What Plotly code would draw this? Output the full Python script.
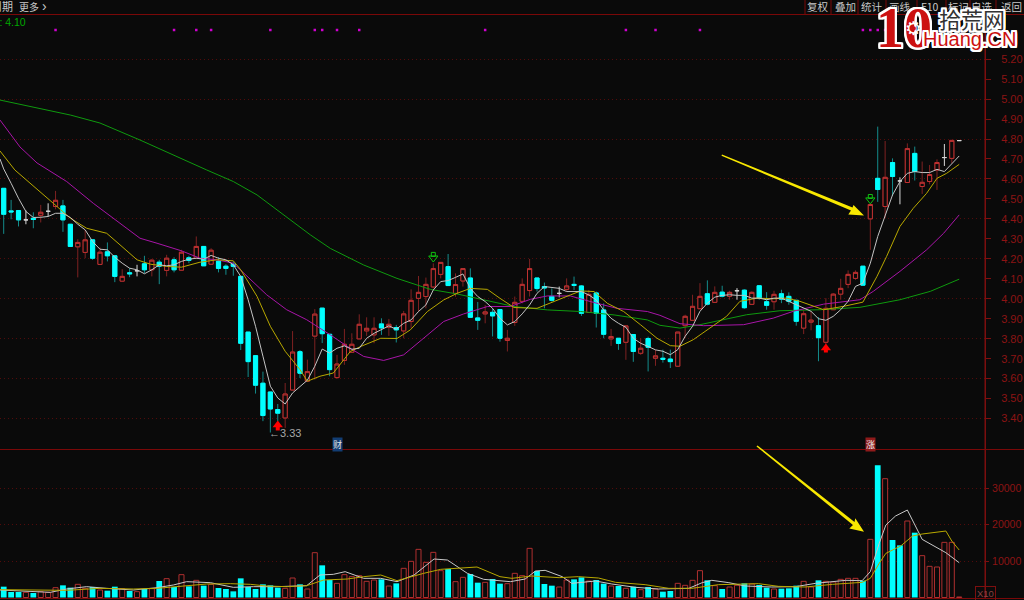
import plotly.graph_objects as go
from plotly.subplots import make_subplots

# --- candles: open, high, low, close per session ---
opens = [4.553,4.44,4.442,4.395,4.403,4.418,4.438,4.462,4.465,4.373,
 4.26,4.232,4.295,4.172,4.235,4.215,4.088,4.13,4.14,4.175,
 4.145,4.183,4.142,4.195,4.143,4.205,4.203,4.262,4.173,4.188,
 4.163,4.173,4.112,3.833,3.715,3.577,3.533,3.445,3.403,3.543,
 3.735,3.587,3.813,3.953,3.822,3.605,3.691,3.732,3.799,3.839,
 3.819,3.874,3.857,3.856,3.839,3.886,4.002,4.011,4.059,4.122,
 4.161,4.027,4.089,4.104,3.904,3.924,3.932,3.946,3.791,3.881,
 3.987,4.041,4.104,4.061,4.012,4.027,4.047,4.072,4.064,3.931,
 4.029,3.944,3.799,3.802,3.782,3.821,3.727,3.801,3.702,3.702,
 3.698,3.662,3.865,3.892,3.95,4.025,3.982,4.033,4.012,4.04,
 4.043,3.972,4.065,3.985,3.985,4.025,4.012,3.992,3.853,3.883,
 3.865,3.782,3.945,4.023,4.072,4.102,4.163,4.4,4.603,4.462,
 4.682,4.59,4.582,4.728,4.562,4.587,4.645,4.707,4.703,4.792]
highs = [4.553,4.495,4.442,4.442,4.433,4.47,4.478,4.54,4.495,4.373,
 4.298,4.345,4.295,4.257,4.282,4.215,4.148,4.153,4.17,4.215,
 4.198,4.195,4.22,4.208,4.245,4.215,4.312,4.262,4.253,4.208,
 4.173,4.187,4.112,3.833,3.715,3.635,3.533,3.473,3.578,3.838,
 3.743,3.695,3.948,3.953,3.822,3.719,3.849,3.827,3.922,3.907,
 3.907,3.902,3.899,3.869,3.939,4.047,4.114,4.106,4.177,4.182,
 4.224,4.127,4.151,4.152,3.984,3.969,3.952,3.946,3.844,4.011,
 4.102,4.199,4.104,4.081,4.052,4.061,4.102,4.111,4.069,4.044,
 4.036,3.977,3.849,3.802,3.864,3.821,3.802,3.81,3.744,3.745,
 3.745,3.833,3.92,4.02,4.078,4.092,4.062,4.065,4.04,4.053,
 4.047,4.037,4.065,4.033,4.04,4.045,4.032,3.992,3.942,3.937,
 3.908,4.003,4.028,4.1,4.142,4.142,4.163,4.472,4.862,4.79,
 4.703,4.608,4.778,4.762,4.687,4.67,4.698,4.775,4.793,4.792]
lows = [4.325,4.398,4.362,4.373,4.353,4.382,4.412,4.448,4.335,4.262,
 4.107,4.203,4.195,4.172,4.187,4.083,4.087,4.108,4.112,4.128,
 4.112,4.073,4.112,4.132,4.142,4.178,4.203,4.165,4.17,4.132,
 4.12,4.115,3.743,3.608,3.525,3.387,3.33,3.387,3.353,3.543,
 3.603,3.587,3.595,3.778,3.612,3.6,3.669,3.732,3.799,3.814,
 3.777,3.819,3.814,3.781,3.802,3.852,3.936,3.952,4.052,4.102,
 4.066,4.01,4.061,3.907,3.844,3.877,3.811,3.785,3.736,3.864,
 3.977,4.011,4.036,3.952,3.986,4.007,4.036,4.044,3.914,3.931,
 3.856,3.802,3.764,3.744,3.694,3.684,3.719,3.636,3.664,3.68,
 3.653,3.658,3.803,3.892,3.95,3.967,3.98,4.007,3.995,3.995,
 3.95,3.972,3.995,3.945,3.945,3.978,3.97,3.865,3.823,3.842,
 3.687,3.733,3.945,3.995,4.053,4.095,4.068,4.245,4.485,4.403,
 4.515,4.473,4.582,4.592,4.525,4.573,4.545,4.665,4.678,4.792]
closes = [4.423,4.435,4.395,4.395,4.397,4.433,4.438,4.493,4.395,4.262,
 4.282,4.295,4.203,4.233,4.215,4.112,4.112,4.125,4.14,4.145,
 4.193,4.163,4.203,4.145,4.233,4.192,4.262,4.165,4.243,4.152,
 4.152,4.162,3.777,3.685,3.567,3.415,3.448,3.427,3.523,3.733,
 3.627,3.635,3.923,3.825,3.645,3.673,3.772,3.772,3.872,3.852,
 3.852,3.854,3.872,3.844,3.924,3.992,4.032,4.072,4.151,4.182,
 4.066,4.071,4.151,3.907,3.892,3.934,3.914,3.802,3.802,3.982,
 4.072,4.151,4.051,4.054,3.992,4.027,4.064,4.067,3.927,4.022,
 3.927,3.822,3.811,3.776,3.864,3.736,3.752,3.757,3.714,3.697,
 3.685,3.833,3.912,3.962,4.012,3.973,4.032,4.013,4.032,4.04,
 3.955,4.032,4.005,3.967,4.022,3.998,3.987,3.887,3.925,3.893,
 3.805,3.952,4.023,4.052,4.122,4.132,4.068,4.472,4.547,4.608,
 4.612,4.59,4.752,4.637,4.583,4.622,4.682,4.707,4.793,4.792]
volumes = [2967,1506,1506,1415,1233,1598,1415,2693,3332,2693,
 3606,2511,2876,2054,1872,2967,2420,1780,1598,2328,
 2420,4519,5158,2876,6254,3059,4702,3241,3606,2602,
 2328,1689,5250,2876,2328,3606,3332,2693,2511,5341,
 3606,2328,12280,8810,4793,3880,6254,5706,5980,4428,
 4793,4976,3150,3880,7989,9906,13193,9632,12371,7350,
 7806,4337,5524,6437,4063,4154,5067,3789,3789,6619,
 5980,13467,7258,3698,3241,2876,4793,4976,5524,4519,
 4793,3789,3150,3150,2511,2967,2146,2876,2328,1598,
 1780,3880,3332,4702,7350,4702,3241,2328,2876,3332,
 3880,3698,3424,2693,2328,2420,2511,3241,4428,2876,
 4702,4428,4245,4976,5250,5250,4611,15932,36200,32550,
 15750,14290,20950,17760,11460,8537,8354,15110,15110,137]
flat_vol_down = [121]

# --- moving averages on price ---
ma5_x = [-0.5] + list(range(130))
ma5_y = [4.70,4.65,4.578,4.503,4.437,4.407,4.408,4.412,4.428,4.428,4.407,
 4.373,4.345,4.287,4.248,4.245,4.208,4.178,4.153,4.145,4.125,
 4.145,4.17,4.165,4.17,4.187,4.198,4.203,4.198,4.217,4.203,
 4.195,4.17,4.112,3.995,3.862,3.712,3.562,3.503,3.473,3.528,
 3.562,3.592,3.662,3.748,3.728,3.752,3.764,3.747,3.752,3.802,
 3.827,3.847,3.864,3.847,3.877,3.894,3.936,3.969,4.044,4.086,
 4.091,4.107,4.124,4.052,4.011,3.986,3.952,3.902,3.869,3.886,
 3.924,3.969,4.027,4.061,4.056,4.052,4.036,4.036,4.036,4.019,
 3.994,3.944,3.902,3.877,3.857,3.802,3.777,3.761,3.744,3.737,
 3.72,3.745,3.812,3.862,3.937,3.978,4.008,4.017,4.02,4.017,
 4.017,4.003,4.003,3.995,4.003,4.003,3.987,3.97,3.953,3.937,
 3.9,3.892,3.912,3.945,3.987,4.062,4.078,4.178,4.312,4.412,
 4.52,4.587,4.628,4.637,4.632,4.632,4.648,4.637,4.678,4.715]
ma10_x = [-0.5,1.5,6.7,9,11.2,13.9,15.7,18,19.8,22,24,26.5,28.8,31,32,34.2,36,38,40,41,42.7,44.5,
 46.8,48.2,50.9,53.1,54.9,57.2,59.4,61.2,63,65.3,67,68.9,72,74.7,76.5,77.9,79.7,81.5,83.7,86,88.2,
 90,91.3,93.1,95.4,97.6,99.4,101.7,103.9,105.7,107.5,110.7,113.4,116,117.9,119.2,121,122.8,124.6,126,127.3,129]
ma10_y = [4.74,4.645,4.478,4.403,4.353,4.328,4.27,4.195,4.173,4.162,4.158,4.183,4.195,4.19,4.145,4.012,3.862,3.737,3.645,3.587,3.612,3.628,
 3.736,3.761,3.802,3.801,3.844,3.936,3.994,4.027,4.052,4.047,4.002,3.956,3.952,3.994,4.019,4.039,4.036,3.977,3.936,3.869,3.802,
 3.765,3.762,3.795,3.853,3.912,3.987,4.003,4.0,4.003,3.987,3.945,3.962,3.983,4.112,4.212,4.362,4.453,4.528,4.603,4.628,4.673]
ma30_x = [-0.5,2.2,4.5,6,8.5,12.1,15.3,18.4,20.7,24,26.5,28.8,31,33.3,35.5,38.2,40.9,44.1,46.4,48.6,51.3,54,56.7,59.4,62.1,65.3,
 68.4,71.1,73.4,76.5,79.7,82.8,86.9,88.6,91.3,94.5,99.9,103.9,106.6,110.7,115.6,117.4,121,124.6,126.9,129]
ma30_y = [4.895,4.76,4.68,4.645,4.587,4.478,4.387,4.303,4.278,4.24,4.203,4.195,4.178,4.095,4.02,3.945,3.895,3.819,3.761,3.711,3.691,3.719,3.802,3.886,3.924,3.961,
 3.961,3.997,4.014,4.014,3.981,3.952,3.936,3.917,3.875,3.865,3.87,3.903,3.937,3.973,3.995,4.037,4.137,4.245,4.328,4.42]
ma60_x = [-0.5,9,13,18.4,27.4,31,34.2,38.7,41.4,44.1,48.6,53.1,57.6,61.2,64.8,68.9,73.4,77.9,82.4,86.9,88.6,91.3,94,97.6,100.3,104.8,110.2,115.6,121,125.1,126.9,129]
ma60_y = [4.995,4.92,4.88,4.795,4.645,4.587,4.52,4.395,4.32,4.252,4.169,4.102,4.047,4.024,3.994,3.961,3.944,3.936,3.919,3.894,3.867,3.853,3.87,3.9,3.92,3.94,3.945,3.957,3.995,4.037,4.067,4.098]

# --- moving averages on volume ---
vma5_x = [-0.5,3.6,6.3,8.5,11.2,13.9,17.5,20.7,22.9,24.7,27.9,31,33.7,36.9,40.9,42.7,44.5,46.1,48.6,50.9,53.1,55.4,58.1,59.9,62.6,64.8,68.4,
 70.4,71.8,73.1,75.4,76.7,79.9,82.1,85.3,88.4,90.2,92.5,94.3,95.6,97.9,100.1,103.7,106.9,109.6,113.7,115.9,117,118.2,119.1,120.4,122,124,125.4,127.2,129]
vma5_y = [2054,1598,1415,2328,2967,2511,2054,2693,3424,4337,4063,2785,2967,2967,3241,6163,6345,7076,5250,5250,4337,6163,10545,10271,6619,4976,4337,
 5067,7258,7441,5706,3880,4519,3698,2785,2328,2328,2511,4063,4702,4063,3150,2876,2967,3880,4702,4611,7076,14838,19858,22323,23967,15932,14380,12280,9541]
vma10_x = [-0.5,4.5,8.5,13,17.5,20.7,23.8,27.4,30.6,33.3,35.5,38.2,40.9,43.2,46.4,48.6,50.9,53.1,56.7,59,63.9,67,68.6,
 71.3,75,77.6,80.3,82.6,86.6,89.8,92.9,96.5,101.9,104.6,108.2,111.9,115.9,117,118.2,119.1,121.1,122.7,124,127.2,128,129]
vma10_y = [2146,1963,1963,2511,2328,2511,3150,3698,3789,3606,3150,2967,3241,4793,5067,5706,6163,4611,6619,7715,8354,5706,5250,
 5889,5433,5706,5341,4154,3515,2511,2511,3515,3789,3059,2876,3606,4154,5250,9358,12097,14106,16845,17388,18215,15475,13010]

# --- axis ticks and markers ---
price_ticks = [3.4,3.5,3.6,3.7,3.8,3.9,4.0,4.1,4.2,4.3,4.4,4.5,4.6,4.7,4.8,4.9,5.0,5.1,5.2]
price_grid = [3.4,3.6,3.8,4.0,4.2,4.4,4.6,4.8,5.0,5.2]
vol_ticks = [10000,20000,30000]
signal_dots = [7,23,26,28,36,42,43,45,48,65,84,88,94,116,117,118,119]
DOT_LEVEL = 5.346
up_signal_x = [37,111]; up_head_y = [3.368,3.753]; up_stem_y = [3.350,3.741]
down_signal_x = [58,117]; down_head_y = [4.204,4.495]; down_stem_y = [4.222,4.512]
toolbar = [("复权",818),("叠加",845),("统计",872),("画线",900),("F10",930),("标记",959),("自选",982),("返回",1011)]
toolbar_seps = [805,831,858,886,917,946,970,996]

BG = "#0a0a0a"; RED = "#c23232"; RED_W = "#7e2222"; CYAN = "#00ffff"; CYAN_W = "#148c8c"
AXIS = "#7d0f0f"; LABEL = "#8c1414"; GRID = "#520b0b"
W, H = 1024, 600
S, X0 = 7.407, 3.7
FONT = "Liberation Sans"
CJK = "Noto Sans CJK SC"

n = len(opens)
idx = list(range(n))
flat = [i for i in idx if opens[i] == closes[i]]
solid = [i for i in idx if opens[i] != closes[i]]

fig = make_subplots(rows=2, cols=1, shared_xaxes=True, vertical_spacing=0)

def pick(a, ids):
    return [a[i] for i in ids]

# wick layer
fig.add_trace(go.Candlestick(x=solid, open=pick(opens, solid), high=pick(highs, solid), low=pick(lows, solid), close=pick(closes, solid),
    increasing=dict(line=dict(color=RED_W, width=1), fillcolor=BG),
    decreasing=dict(line=dict(color=CYAN_W, width=1), fillcolor=CYAN),
    whiskerwidth=0, hoverinfo="skip"), row=1, col=1)
# body layer
fig.add_trace(go.Candlestick(x=solid, open=pick(opens, solid),
    high=[max(opens[i], closes[i]) for i in solid], low=[min(opens[i], closes[i]) for i in solid], close=pick(closes, solid),
    increasing=dict(line=dict(color=RED, width=1), fillcolor=BG),
    decreasing=dict(line=dict(color=CYAN, width=1), fillcolor=CYAN),
    whiskerwidth=0, hoverinfo="skip"), row=1, col=1)
# flat sessions
fig.add_trace(go.Candlestick(x=flat, open=pick(opens, flat), high=pick(highs, flat), low=pick(lows, flat), close=pick(closes, flat),
    increasing=dict(line=dict(color="#d8d8d8", width=1), fillcolor="#d8d8d8"),
    decreasing=dict(line=dict(color="#d8d8d8", width=1), fillcolor="#d8d8d8"),
    whiskerwidth=0, hoverinfo="skip"), row=1, col=1)

for xs, ys, c in [(ma60_x, ma60_y, "#0f9a0f"), (ma30_x, ma30_y, "#a815a8"), (ma10_x, ma10_y, "#b8a800"), (ma5_x, ma5_y, "#c4c4c4")]:
    fig.add_trace(go.Scatter(x=xs, y=ys, mode="lines", line=dict(color=c, width=1), hoverinfo="skip"), row=1, col=1)

fig.add_trace(go.Scatter(x=signal_dots, y=[DOT_LEVEL]*len(signal_dots), mode="markers",
    marker=dict(color="#d000d0", size=2.5, symbol="square"), hoverinfo="skip"), row=1, col=1)

# buy / sell arrows
fig.add_trace(go.Scatter(x=up_signal_x, y=up_stem_y, mode="markers", marker=dict(symbol="square", size=4, color="#ff0000"), hoverinfo="skip"), row=1, col=1)
fig.add_trace(go.Scatter(x=up_signal_x, y=up_head_y, mode="markers", marker=dict(symbol="triangle-up", size=9, color="#ff0000"), hoverinfo="skip"), row=1, col=1)
fig.add_trace(go.Scatter(x=down_signal_x, y=down_stem_y, mode="markers", marker=dict(symbol="square-open", size=4, color="#10c010", line=dict(width=1, color="#10c010")), hoverinfo="skip"), row=1, col=1)
fig.add_trace(go.Scatter(x=down_signal_x, y=down_head_y, mode="markers", marker=dict(symbol="triangle-down-open", size=8, color="#10c010", line=dict(width=1, color="#10c010")), hoverinfo="skip"), row=1, col=1)

# volume
up = [i for i in idx if (closes[i] >= opens[i] and i not in flat_vol_down)]
down = [i for i in idx if i not in up]
fig.add_trace(go.Bar(x=up, y=pick(volumes, up), width=0.68, marker=dict(color=BG, line=dict(color="#b03030", width=1)), hoverinfo="skip"), row=2, col=1)
fig.add_trace(go.Bar(x=down, y=pick(volumes, down), width=0.78, marker=dict(color=CYAN, line=dict(width=0)), hoverinfo="skip"), row=2, col=1)
fig.add_trace(go.Scatter(x=vma5_x, y=vma5_y, mode="lines", line=dict(color="#c8c8c8", width=1), hoverinfo="skip"), row=2, col=1)
fig.add_trace(go.Scatter(x=vma10_x, y=vma10_y, mode="lines", line=dict(color="#b8a800", width=1), hoverinfo="skip"), row=2, col=1)

def px_x(p): return p / W
def px_y(p): return 1 - p / H

xr = [-X0 / S, (985 - X0) / S]
fig.update_layout(width=W, height=H, autosize=False, paper_bgcolor=BG, plot_bgcolor=BG, showlegend=False,
    margin=dict(l=0, r=0, t=0, b=0), barmode="overlay", font=dict(family=FONT, color=LABEL), boxgap=0.2,
    xaxis=dict(domain=[0, 985 / W], range=xr, showticklabels=False, showgrid=False, zeroline=False, rangeslider=dict(visible=False), ticks="", showline=False),
    xaxis2=dict(domain=[0, 985 / W], range=xr, showticklabels=False, showgrid=False, zeroline=False, rangeslider=dict(visible=False), ticks="", showline=False, matches="x"),
    yaxis=dict(domain=[px_y(449.5), px_y(15)], range=[3.245, 5.421], side="right", tickmode="array", tickvals=price_ticks,
        ticktext=[f"{v:.2f}" for v in price_ticks], ticks="outside", ticklen=5, tickcolor=AXIS, showgrid=False, zeroline=False, ticklabelstandoff=8,
        tickfont=dict(size=11, color=LABEL, family=FONT), showline=True, linecolor=AXIS, linewidth=1),
    yaxis2=dict(domain=[px_y(598), px_y(449.5)], range=[-137, 40548], side="right", tickmode="array", tickvals=vol_ticks,
        ticktext=[str(v) for v in vol_ticks], ticks="outside", ticklen=3, tickcolor=AXIS, zeroline=False, ticklabelstandoff=1,
        gridcolor=GRID, griddash="1px,3px", gridwidth=1, showgrid=True,
        tickfont=dict(size=10.5, color=LABEL, family=FONT), showline=True, linecolor=AXIS, linewidth=1),
    yaxis3=dict(overlaying="y", anchor="x", side="left", range=[3.245, 5.421], tickmode="array", tickvals=price_grid, showticklabels=False,
        ticks="", showgrid=True, gridcolor=GRID, griddash="1px,3px", gridwidth=1, zeroline=False, showline=False),
    hovermode=False)
# carrier for the dotted price grid
fig.add_trace(go.Scatter(x=[0], y=[4.0], yaxis="y3", xaxis="x", mode="markers", marker=dict(size=1, color="rgba(0,0,0,0)"), hoverinfo="skip"))

shapes = []
for yp in (14.5, 449.5, 598.5):
    shapes.append(dict(type="line", xref="paper", yref="paper", x0=0, x1=1, y0=px_y(yp), y1=px_y(yp), line=dict(color="#7a0808", width=1)))
for xp in toolbar_seps:
    shapes.append(dict(type="line", xref="paper", yref="paper", x0=px_x(xp), x1=px_x(xp), y0=px_y(0), y1=px_y(14), line=dict(color="#7a0808", width=1)))
shapes.append(dict(type="line", xref="paper", yref="paper", x0=px_x(985), x1=px_x(985), y0=px_y(15), y1=px_y(598), line=dict(color=AXIS, width=1)))

def poly(points):
    return "M" + " L".join(f"{px_x(a):.5f},{px_y(b):.5f}" for a, b in points) + " Z"
shapes.append(dict(type="path", xref="paper", yref="paper", fillcolor="#f8e800", line=dict(width=0),
    path=poly([(722, 154.5), (721.5, 155.8), (851, 210.5), (848.3, 214.5), (864, 215.5), (853.5, 205), (852.5, 207.5)])))
shapes.append(dict(type="path", xref="paper", yref="paper", fillcolor="#f8e800", line=dict(width=0),
    path=poly([(757.5, 445.5), (756.5, 446.5), (853, 525), (849.3, 528.5), (864, 531.7), (855.3, 518.3), (854.5, 522)])))
fig.update_layout(shapes=shapes)

ann = []
def text(x, y, s, size=11, color="#c8c8c8", family=CJK, anchor="center", **kw):
    ann.append(dict(xref="paper", yref="paper", x=px_x(x), y=px_y(y), text=s, showarrow=False, xanchor=anchor, yanchor="middle",
        font=dict(size=size, color=color, family=family, **kw)))
text(2, 6, "周期", size=11)
text(29, 6, "更多", size=10)
text(44, 6, "›", size=14, family=FONT)
text(27.5, 21.5, "MA60: 4.10", size=10.5, color="#00a800", family=FONT, anchor="right")
for s, xp in toolbar:
    text(xp, 6, s, size=10.5)
ann.append(dict(xref="x", yref="y", x=36, y=3.33, text="←3.33", showarrow=False, xanchor="left", yanchor="middle", xshift=-3,
    font=dict(size=11, color="#a8a8a8", family=FONT)))
# event tags
ann.append(dict(xref="x", yref="paper", x=45, y=px_y(444), yanchor="middle", text="财", showarrow=False, bgcolor="#123d73", borderpad=0,
    font=dict(size=9, color="#e0e0e0", family=CJK)))
ann.append(dict(xref="x", yref="paper", x=117, y=px_y(444), yanchor="middle", text="涨", showarrow=False, bgcolor="#8f1a1a", borderpad=0,
    font=dict(size=9, color="#eeeeee", family=CJK)))
# x10 box
ann.append(dict(xref="paper", yref="paper", x=px_x(996), y=px_y(593), yanchor="middle", text="X10", showarrow=False, bordercolor=AXIS, borderwidth=1, borderpad=1,
    font=dict(size=9.5, color="#8a4040", family=FONT)))
# logo
halo = ",".join(f"{a}px {b}px 0 #fff" for a in (-2, -1, 0, 1, 2) for b in (-2, -1, 0, 1, 2))
text(904, 28, "<b>10</b>", size=56, color="#cc1111", family="Liberation Sans Narrow", shadow=halo)
text(913.5, 28, "⚙", size=19, color="#ffffff", family="DejaVu Sans")
text(913.5, 28, "●", size=6, color="#cc1111", family="DejaVu Sans")
text(972, 18, "拾荒网", size=22, color="#333333", family=CJK, shadow=halo)
text(969, 38.5, "Huang.CN", size=20, color="#cc1111", family="Liberation Sans", shadow=halo)
fig.update_layout(annotations=ann)

fig.write_html("out.html", config=dict(displayModeBar=False),
    post_script="document.body.style.margin='0';document.body.style.background='#0a0a0a';document.documentElement.style.overflow='hidden';")
